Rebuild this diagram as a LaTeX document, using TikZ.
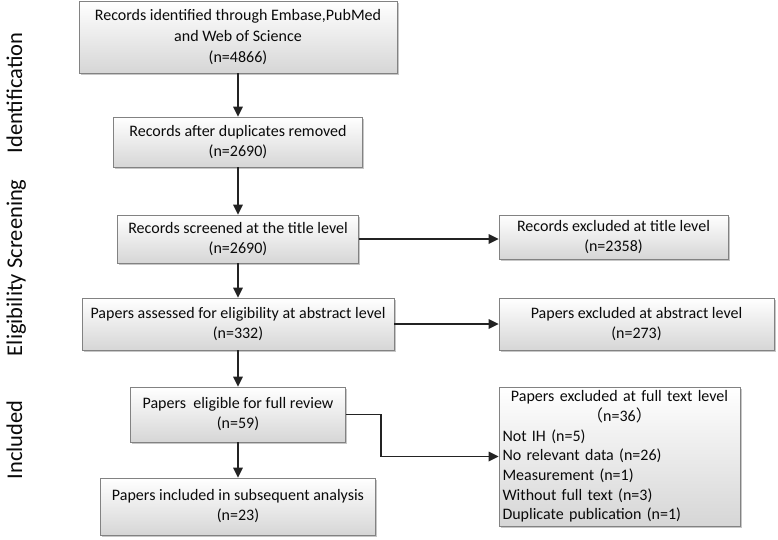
\documentclass[tikz,border=0pt]{standalone}
\usepackage{fontspec}
\setmainfont{Carlito}
\newfontfamily\cjkfont{Noto Sans CJK SC}
\usetikzlibrary{shadows,arrows.meta}
\definecolor{boxborder}{RGB}{130,130,130}
\definecolor{boxbottom}{RGB}{214,214,214}
\definecolor{arrowcol}{RGB}{35,35,35}
\definecolor{txtcol}{RGB}{10,10,10}
\begin{document}
\begin{tikzpicture}[x=1pt,y=-1pt,
  box/.style={draw=boxborder, line width=0.8pt, top color=white, bottom color=boxbottom,
    drop shadow={shadow xshift=1.5pt, shadow yshift=-1.5pt, fill=black, opacity=0.22},
    font=\fontsize{16}{20}\selectfont, text=txtcol, align=center, inner sep=0pt},
  arr/.style={-{Triangle[length=10pt,width=9.5pt]}, line width=1.7pt, draw=arrowcol},
  stage/.style={rotate=90, anchor=base, text=txtcol, font=\fontsize{22.5}{26}\selectfont}]
\path[fill=white] (0,0) rectangle (778,539);
\useasboundingbox (0,0) rectangle (778,539);

% stage labels
\node[stage] (sid) at (22,93) {Identification};
\node[stage] (ssc) at (22,224) {Screening};
\node[stage] (sel) at (22,315) {Eligibility};
\node[stage] (sin) at (22,440) {Included};

% main column
\node[box, minimum width=318pt, minimum height=72pt, font=\fontsize{16}{21}\selectfont] (b1) at (238,37)
  {Records identified through Embase,PubMed\\and Web of Science\\(n=4866)};
\node[box, minimum width=249pt, minimum height=50pt] (b2) at (238,142)
  {Records after duplicates removed\\(n=2690)};
\node[box, minimum width=241pt, minimum height=48pt] (b3) at (238,239)
  {Records screened at the title level\\(n=2690)};
\node[box, minimum width=312pt, minimum height=52pt] (b4) at (238,324)
  {Papers assessed for eligibility at abstract level\\(n=332)};
\node[box, minimum width=215pt, minimum height=55pt] (b5) at (238,414.5)
  {Papers\ \ eligible for full review\\(n=59)};
\node[box, minimum width=275pt, minimum height=57pt] (b6) at (238,506.5)
  {Papers included in subsequent analysis\\(n=23)};

% exclusion boxes
\node[box, minimum width=229pt, minimum height=44pt] (e1) at (613.5,237)
  {Records excluded at title level\\(n=2358)};
\node[box, minimum width=275pt, minimum height=52pt] (e2) at (636.5,324)
  {Papers excluded at abstract level\\(n=273)};
\node[box, minimum width=241pt, minimum height=139pt, text width=234pt, align=left,
  font=\fontsize{16}{19.7}\selectfont] (e3) at (619.5,456.5)
  {{\centering Papers excluded at full text level\\{\cjkfont （}n=36{\cjkfont ）}\par}
   Not IH (n=5)\\
   No relevant data (n=26)\\
   Measurement (n=1)\\
   Without full text (n=3)\\
   Duplicate publication (n=1)};

% connectors
\draw[arr] (b1.south) -- (b2.north);
\draw[arr] (b2.south) -- (b3.north);
\draw[arr] (b3.south) -- (b4.north);
\draw[arr] (b4.south) -- (b5.north);
\draw[arr] (b5.south) -- (b6.north);
\draw[arr] (b3.east) -- (b3.east -| e1.west);
\draw[arr] (b4.east) -- (b4.east -| e2.west);
\draw[arr] (b5.east) -- ++(35,0) |- (e3.west);
\end{tikzpicture}
\end{document}
